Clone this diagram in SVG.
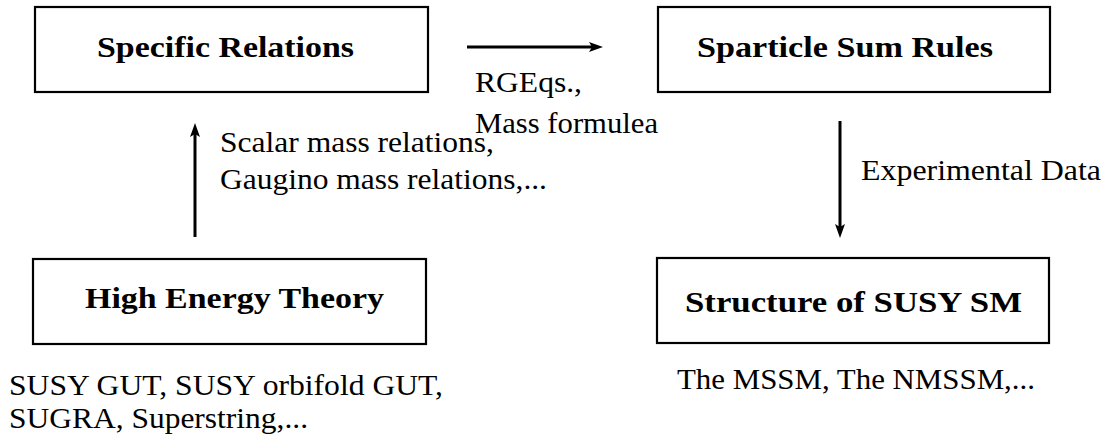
<svg xmlns="http://www.w3.org/2000/svg" width="1110" height="437" viewBox="0 0 1110 437">
<style>
.box{fill:#fff;stroke:#000;stroke-width:2.2}
text{font-family:'Liberation Serif','DejaVu Serif',serif;font-size:30px;fill:#000}
.b{font-weight:bold}
.edge{stroke:#000;stroke-width:3;fill:none}
</style>
<defs>
<marker id="ah" markerUnits="userSpaceOnUse" markerWidth="14" markerHeight="10" refX="8" refY="5" orient="auto">
<path d="M0,0 L14,5 L0,10 L3,5 z" fill="#000"/>
</marker>
</defs>
<rect width="1110" height="437" fill="#fff"/>
<g id="specific-relations">
<rect class="box" x="35" y="7" width="393" height="85"/>
<text class="b" x="97" y="57" textLength="257" lengthAdjust="spacingAndGlyphs">Specific Relations</text>
</g>
<g id="sparticle-sum-rules">
<rect class="box" x="658" y="7" width="392" height="85"/>
<text class="b" x="697" y="57" textLength="296" lengthAdjust="spacingAndGlyphs">Sparticle Sum Rules</text>
</g>
<g id="high-energy-theory">
<rect class="box" x="33" y="259" width="393" height="85"/>
<text class="b" x="85" y="308" textLength="299" lengthAdjust="spacingAndGlyphs">High Energy Theory</text>
<text x="9" y="395" textLength="434" lengthAdjust="spacingAndGlyphs">SUSY GUT, SUSY orbifold GUT,</text>
<text x="9" y="428" textLength="299" lengthAdjust="spacingAndGlyphs">SUGRA, Superstring,...</text>
</g>
<g id="structure-susy-sm">
<rect class="box" x="657" y="258" width="392" height="85"/>
<text class="b" x="685" y="312" textLength="337" lengthAdjust="spacingAndGlyphs">Structure of SUSY SM</text>
<text x="677" y="389" textLength="358" lengthAdjust="spacingAndGlyphs">The MSSM, The NMSSM,...</text>
</g>
<g id="connectors">
<line class="edge" x1="467" y1="47" x2="597" y2="47" marker-end="url(#ah)"/>
<line class="edge" x1="195" y1="237" x2="195" y2="129" marker-end="url(#ah)"/>
<line class="edge" x1="840" y1="121" x2="840" y2="232" marker-end="url(#ah)"/>
<text x="475" y="92" textLength="107" lengthAdjust="spacingAndGlyphs">RGEqs.,</text>
<text x="475" y="133" textLength="183" lengthAdjust="spacingAndGlyphs">Mass formulea</text>
<text x="220" y="152" textLength="274" lengthAdjust="spacingAndGlyphs">Scalar mass relations,</text>
<text x="220" y="189" textLength="327" lengthAdjust="spacingAndGlyphs">Gaugino mass relations,...</text>
<text x="861" y="180" textLength="240" lengthAdjust="spacingAndGlyphs">Experimental Data</text>
</g>
</svg>
